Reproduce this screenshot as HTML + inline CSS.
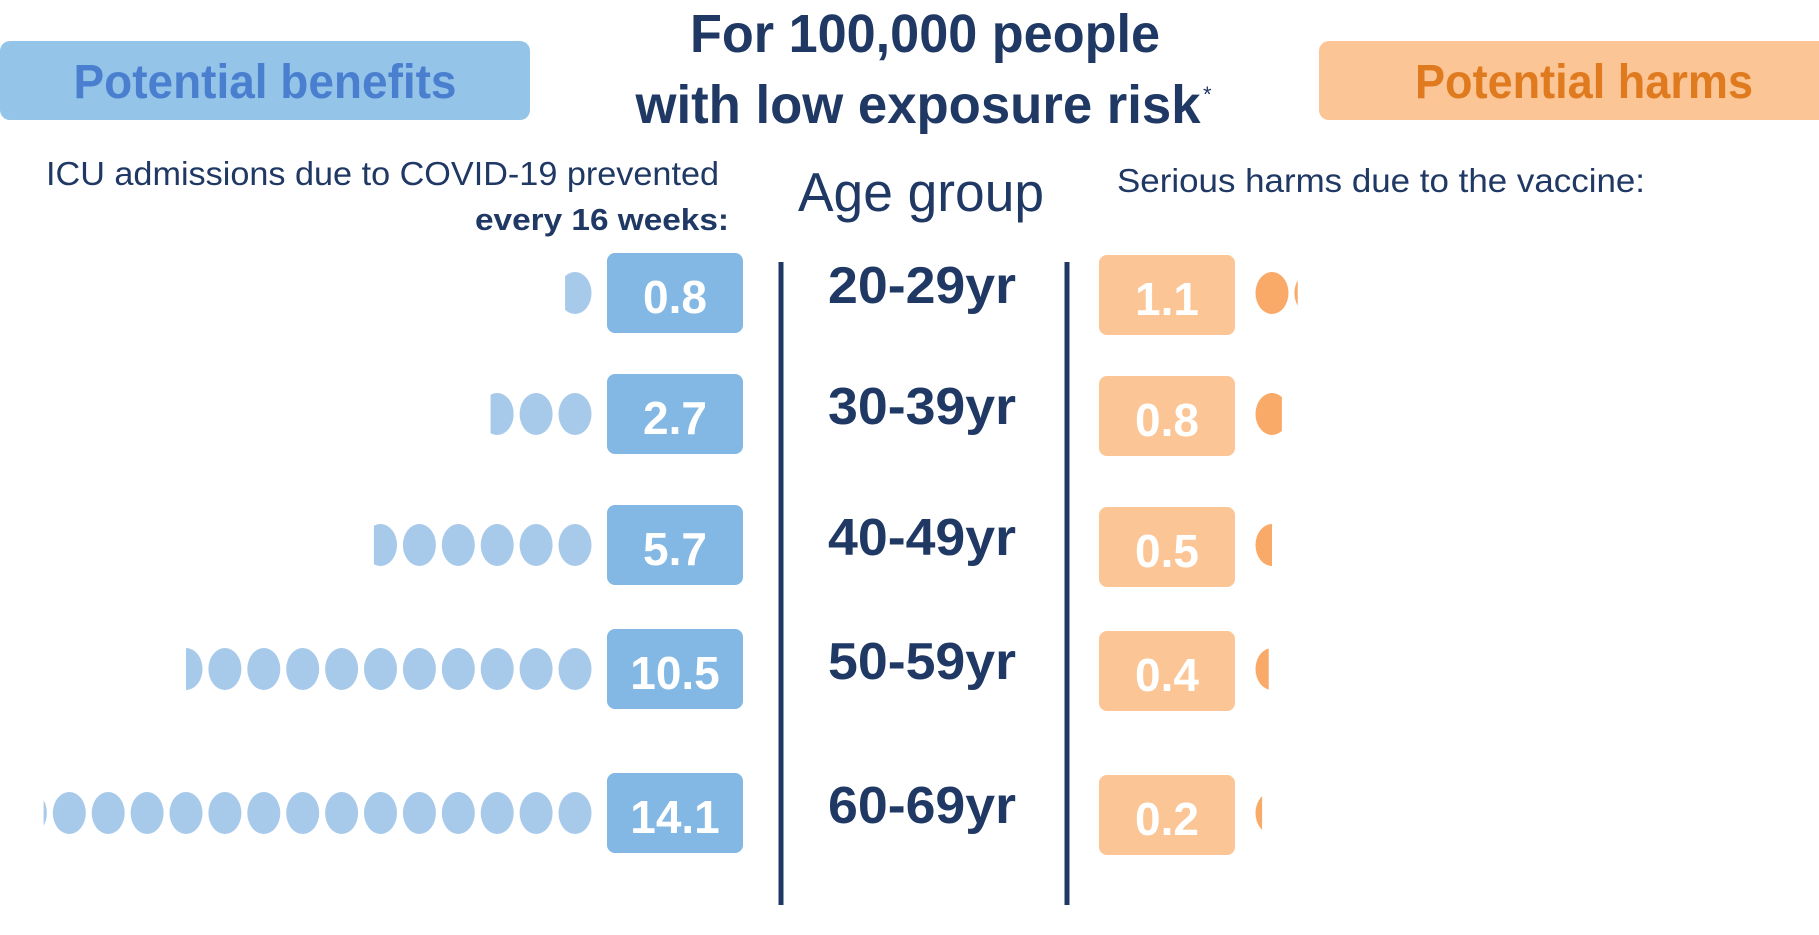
<!DOCTYPE html>
<html><head><meta charset="utf-8"><style>
html,body{margin:0;padding:0;background:#fff;}
svg{display:block;font-family:"Liberation Sans",sans-serif;}
</style></head><body>
<svg id="c" width="1819" height="935" viewBox="0 0 1819 935" xmlns="http://www.w3.org/2000/svg">
<defs id="defs"></defs>
<rect x="0" y="41" width="530" height="79" rx="10" fill="#94c4e8"/>
<text x="265" y="98" text-anchor="middle" font-size="48" font-weight="bold" fill="#4a7fd0" textLength="383" lengthAdjust="spacingAndGlyphs">Potential benefits</text>
<rect x="1319" y="41" width="510" height="79" rx="10" fill="#fbc595"/>
<text x="1584" y="98" text-anchor="middle" font-size="48" font-weight="bold" fill="#e07a1f" textLength="338" lengthAdjust="spacingAndGlyphs">Potential harms</text>
<text x="925" y="52" text-anchor="middle" font-size="54" font-weight="bold" fill="#1f3864" textLength="470" lengthAdjust="spacingAndGlyphs">For 100,000 people</text>
<text x="918" y="123" text-anchor="middle" font-size="54" font-weight="bold" fill="#1f3864" textLength="565" lengthAdjust="spacingAndGlyphs">with low exposure risk</text>
<text x="1203" y="102" font-size="22" fill="#1f3864">*</text>
<text x="46" y="185" font-size="33" fill="#1f3864" textLength="673" lengthAdjust="spacingAndGlyphs">ICU admissions due to COVID-19 prevented</text>
<text x="729" y="230" text-anchor="end" font-size="31" font-weight="bold" fill="#1f3864" textLength="254" lengthAdjust="spacingAndGlyphs">every 16 weeks:</text>
<text x="921" y="211" text-anchor="middle" font-size="55" fill="#1f3864" textLength="246" lengthAdjust="spacingAndGlyphs">Age group</text>
<text x="1117" y="192" font-size="33" fill="#1f3864" textLength="528" lengthAdjust="spacingAndGlyphs">Serious harms due to the vaccine:</text>
<line x1="781" y1="262" x2="781" y2="905" stroke="#1f3864" stroke-width="5"/>
<line x1="1067" y1="262" x2="1067" y2="905" stroke="#1f3864" stroke-width="5"/>
<g id="rows"></g>
</svg>
<script>
const ageGroups = ["20-29yr","30-39yr","40-49yr","50-59yr","60-69yr"];
const benefits = [0.8, 2.7, 5.7, 10.5, 14.1];
const harms = [1.1, 0.8, 0.5, 0.4, 0.2];
const NS = "http://www.w3.org/2000/svg";
const g = document.getElementById('rows');
const defs = document.getElementById('defs');
const rowY = [293, 414, 545, 669, 813];
const dotStep = 38.9, rx = 16.5, ry = 21;
function mk(tag, attrs){const e=document.createElementNS(NS,tag);for(const k in attrs)e.setAttribute(k,attrs[k]);return e;}
let clipId = 0;
function dot(cx, cy, fill, frac, fromRight){
  const e = mk('ellipse',{cx:cx,cy:cy,rx:rx,ry:ry,fill:fill});
  if(frac < 1){
    const id='cl'+(clipId++);
    const cp=mk('clipPath',{id:id});
    const w=2*rx*frac;
    const x= fromRight ? cx+rx-w : cx-rx;
    cp.appendChild(mk('rect',{x:x,y:cy-ry-2,width:w,height:2*ry+4}));
    defs.appendChild(cp);
    e.setAttribute('clip-path','url(#'+id+')');
  }
  return e;
}
ageGroups.forEach((lab,i)=>{
  const cy=rowY[i];
  const b=benefits[i];
  const nb=Math.ceil(b);
  for(let k=0;k<nb;k++){
    const frac=Math.min(1,b-k);
    const d=dot(575-k*dotStep,cy,'#a7c9ea',frac,true);
    
    
    g.appendChild(d);
  }
  const br=mk('rect',{x:607,y:cy-40,width:136,height:80,rx:8,fill:'#82b8e3'});
  
  
  g.appendChild(br);
  const bt=mk('text',{x:675,y:cy+20,'text-anchor':'middle','font-size':46,'font-weight':'bold',fill:'#fff'});
  bt.textContent=b.toFixed(1);
  
  
  g.appendChild(bt);
  const at=mk('text',{x:922,y:cy+10,'text-anchor':'middle','font-size':52,'font-weight':'bold',fill:'#1f3864',textLength:188,lengthAdjust:'spacingAndGlyphs'});
  at.textContent=lab;
  
  
  g.appendChild(at);
  const h=harms[i];
  const hr=mk('rect',{x:1099,y:cy-38,width:136,height:80,rx:8,fill:'#fbc595'});
  
  
  g.appendChild(hr);
  const ht=mk('text',{x:1167,y:cy+22,'text-anchor':'middle','font-size':46,'font-weight':'bold',fill:'#fff'});
  ht.textContent=h.toFixed(1);
  
  
  g.appendChild(ht);
  const nh=Math.ceil(h);
  for(let k=0;k<nh;k++){
    const frac=Math.min(1,h-k);
    const d=dot(1272+k*dotStep,cy,'#f9a968',frac,false);
    
    
    g.appendChild(d);
  }
});
</script>
</body></html>
